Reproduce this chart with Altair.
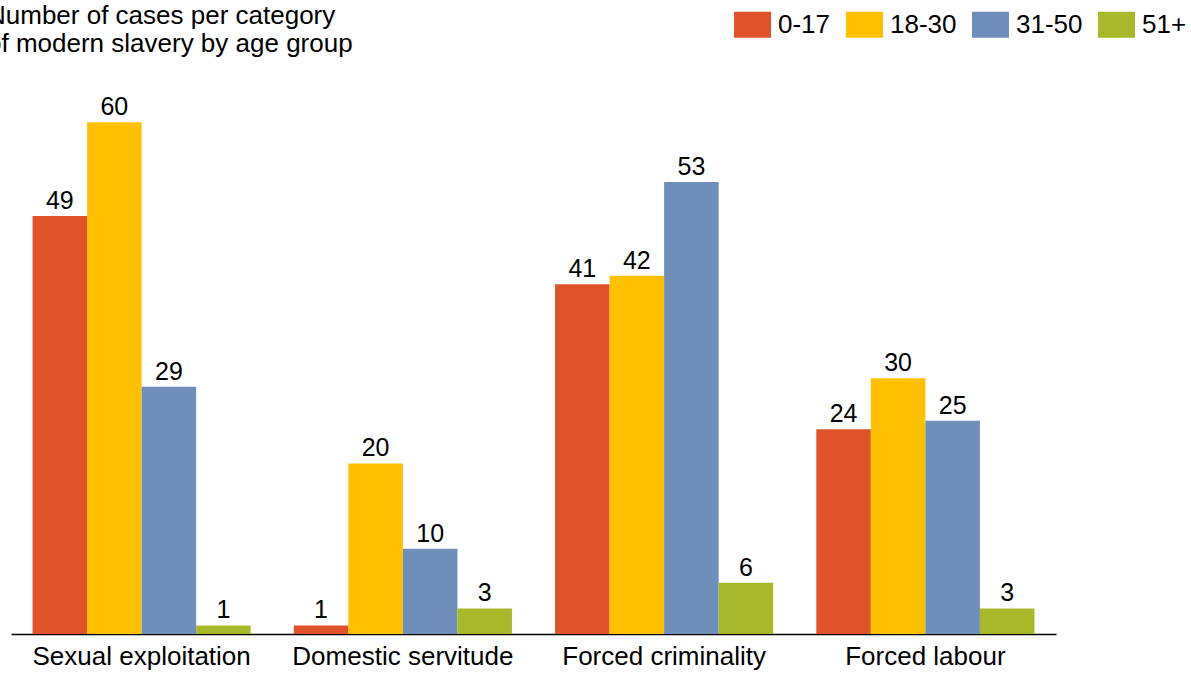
import altair as alt
import pandas as pd

# Cases of modern slavery by category and age group
categories = ["Sexual exploitation", "Domestic servitude", "Forced criminality", "Forced labour"]
age_groups = ["0-17", "18-30", "31-50", "51+"]
cases_0_17 = [49, 1, 41, 24]
cases_18_30 = [60, 20, 42, 30]
cases_31_50 = [29, 10, 53, 25]
cases_51_plus = [1, 3, 6, 3]
colors = ["#E0532A", "#FFC000", "#6F8EBA", "#A7B82B"]

series = [cases_0_17, cases_18_30, cases_31_50, cases_51_plus]
rows = []
for age, vals in zip(age_groups, series):
    for cat, v in zip(categories, vals):
        rows.append({"category": cat, "age": age, "cases": v})
df = pd.DataFrame(rows)

FONT = "Liberation Sans"

x = alt.X(
    "category:N",
    sort=categories,
    title=None,
    scale=alt.Scale(paddingInner=0.165, paddingOuter=0.0825),
    axis=alt.Axis(
        labelAngle=0,
        labelFont=FONT,
        labelFontSize=26,
        labelColor="black",
        labelPadding=30,
        labelBaseline="alphabetic",
        labelLimit=0,
        ticks=False,
        domainColor="black",
        domainWidth=1.5,
        grid=False,
    ),
)
y = alt.Y("cases:Q", scale=alt.Scale(domain=[0, 70], nice=False), axis=None)
x_off = alt.XOffset("age:N", sort=age_groups)

bars = alt.Chart(df).mark_bar().encode(
    x=x,
    xOffset=x_off,
    y=y,
    color=alt.Color(
        "age:N",
        sort=age_groups,
        scale=alt.Scale(domain=age_groups, range=colors),
        legend=alt.Legend(
            title=None,
            orient="none",
            direction="horizontal",
            legendX=723,
            legendY=-31,
            symbolType="M-1,-0.7027L1,-0.7027L1,0.7027L-1,0.7027Z",
            symbolSize=1369,
            symbolStrokeWidth=0,
            symbolOpacity=1,
            labelFont=FONT,
            labelFontSize=26,
            labelColor="black",
            labelOffset=7,
            columnPadding=15,
            padding=0,
        ),
    ),
)

labels = alt.Chart(df).mark_text(
    font=FONT, fontSize=25, color="black", baseline="alphabetic", dy=-7
).encode(x=x, xOffset=x_off, y=y, text="cases:Q")

chart = (
    (bars + labels)
    .properties(
        width=1045,
        height=597,
        title=alt.TitleParams(
            ["Number of cases per category", "of modern slavery by age group"],
            anchor="start",
            orient="top",
            frame="group",
            font=FONT,
            fontSize=26,
            fontWeight="normal",
            color="black",
            lineHeight=27.7,
            dx=-24,
            dy=51,
            offset=0,
        ),
        autosize=alt.AutoSizeParams(type="none"),
        padding={"left": 11, "top": 37, "right": 135, "bottom": 40},
    )
    .configure_view(stroke=None)
)

chart.save("out.html", embed_options={"renderer": "svg", "actions": False})
